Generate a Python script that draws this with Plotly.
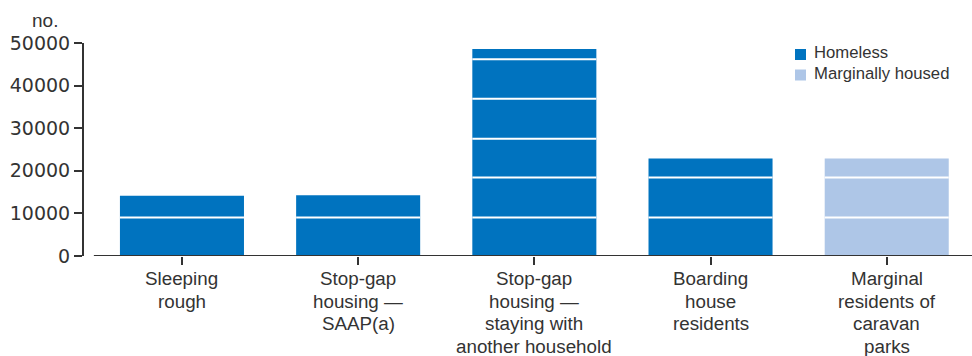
import plotly.graph_objects as go

# Categories and counts (persons)
categories = [
    "Sleeping<br>rough",
    "Stop-gap<br>housing —<br>SAAP(a)",
    "Stop-gap<br>housing —<br>staying with<br>another household",
    "Boarding<br>house<br>residents",
    "Marginal<br>residents of<br>caravan<br>parks",
]
homeless_values = [14158, 14251, 48614, 22877]
marginal_values = [22868]
series_names = ["Homeless", "Marginally housed"]

# Levels of the white divider rules drawn across the bars
divider_levels = [9050, 18410, 27520, 36920, 46170]

y_ticks = [0, 10000, 20000, 30000, 40000, 50000]

BLUE = "#0073bf"
LIGHT = "#aec6e7"
TEXT = "#333333"
BAR_WIDTH = 0.704
LABEL_FONT = dict(family="Liberation Sans, Arial, sans-serif", size=18.8, color=TEXT)

W, H = 972, 356
ML, MR, MT, MB = 84, 0, 43, 100
PW, PH = W - ML - MR, H - MT - MB


def px_x(x):
    return (x - ML) / PW


def px_y(y):
    return (H - MB - y) / PH


fig = go.Figure()
fig.add_trace(go.Bar(
    x=categories[:4], y=homeless_values, name=series_names[0],
    marker=dict(color=BLUE, line=dict(width=0)), width=BAR_WIDTH,
))
fig.add_trace(go.Bar(
    x=categories[4:], y=marginal_values, name=series_names[1],
    marker=dict(color=LIGHT, line=dict(width=0)), width=BAR_WIDTH,
))

# White rules across each bar
all_values = homeless_values + marginal_values
for i, v in enumerate(all_values):
    for lvl in divider_levels:
        if lvl < v:
            fig.add_shape(
                type="line", xref="x", yref="y",
                x0=i - BAR_WIDTH / 2, x1=i + BAR_WIDTH / 2, y0=lvl, y1=lvl,
                line=dict(color="white", width=2), layer="above",
            )

# Category axis baseline
fig.add_shape(
    type="line", xref="x", yref="y", x0=-0.5, x1=4.6, y0=0, y1=0,
    line=dict(color=TEXT, width=2), layer="above",
)

# Category labels, one line at a time for tight line spacing
LINE_PITCH = 22.7
for i, cat in enumerate(categories):
    for j, line in enumerate(cat.split("<br>")):
        fig.add_annotation(
            text=line, xref="x", yref="y", x=i, y=0,
            xanchor="center", yanchor="top", showarrow=False,
            yshift=-10 - j * LINE_PITCH, font=LABEL_FONT,
        )

# Legend: colour swatch plus name for each series
for k, (name, color) in enumerate(zip(series_names, [BLUE, LIGHT])):
    cy = 54.5 + k * 20.5
    fig.add_shape(
        type="rect", xref="paper", yref="paper",
        x0=px_x(795), x1=px_x(806), y0=px_y(cy - 5.5), y1=px_y(cy + 5.5),
        fillcolor=color, line=dict(width=0),
    )
    fig.add_annotation(
        text=name, xref="paper", yref="paper", x=px_x(812), y=px_y(cy - 2),
        xanchor="left", yanchor="middle", showarrow=False,
        font=dict(family="Liberation Sans, Arial, sans-serif", size=16.7, color=TEXT),
    )

fig.add_annotation(
    text="no.", xref="paper", yref="paper", x=px_x(45), y=px_y(20),
    showarrow=False, xanchor="center", yanchor="middle",
    font=dict(family="Liberation Sans, Arial, sans-serif", size=19, color=TEXT),
)

fig.update_layout(
    width=W, height=H,
    margin=dict(l=ML, r=MR, t=MT, b=MB),
    plot_bgcolor="white", paper_bgcolor="white",
    barmode="overlay",
    showlegend=False,
    font=dict(family="Liberation Sans, Arial, sans-serif", color=TEXT),
)

fig.update_xaxes(
    type="category", categoryorder="array", categoryarray=categories,
    range=[-0.556, 4.484], automargin=False,
    showline=False, showgrid=False, zeroline=False,
    ticks="outside", ticklen=8, tickwidth=2, tickcolor=TEXT,
    showticklabels=False,
)
fig.update_yaxes(
    range=[0, 50000], tickvals=y_ticks, ticktext=[str(t) for t in y_ticks],
    automargin=False,
    showline=True, linecolor=TEXT, linewidth=2,
    showgrid=False, zeroline=False,
    ticks="outside", ticklen=8, tickwidth=1.5, tickcolor=TEXT,
    tickfont=dict(family="DejaVu Sans, sans-serif", size=19, color=TEXT),
)

fig.write_html("out.html")
